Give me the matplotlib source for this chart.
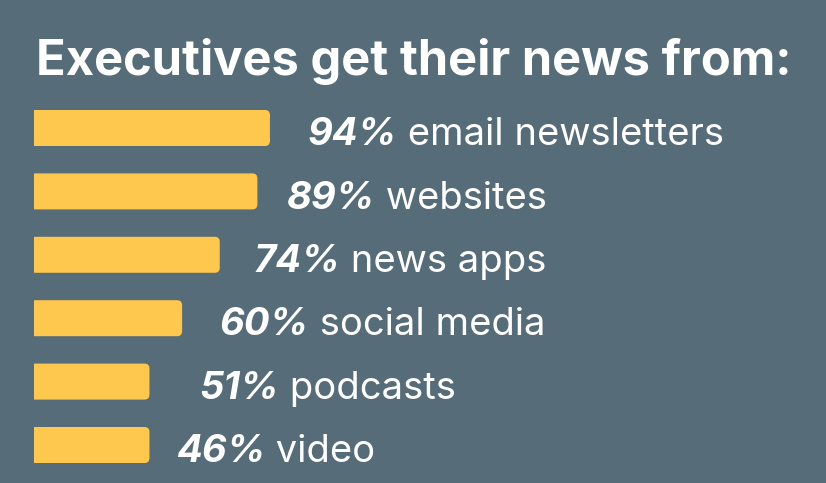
import matplotlib.pyplot as plt
from matplotlib.patches import FancyBboxPatch, Rectangle

# values
title = "Executives get their news from:"
sources = ["email newsletters", "websites", "news apps", "social media", "podcasts", "video"]
shares = [94, 89, 74, 60, 51, 46]
bar_lengths = [94, 89, 74, 59, 46, 46]  # as drawn in the original

bg = "#566C78"
bar_color = "#FEC84F"
font = "Inter"

fig = plt.figure(figsize=(8.26, 4.83), dpi=100, facecolor=bg)
ax = fig.add_axes([0, 0, 1, 1])
ax.set_facecolor(bg)

px_x = 2.51   # pixels per percent
px_y = 63.4   # pixels per row
ax.set_xlim(-34 / px_x, (826 - 34) / px_x)
ax.set_ylim((483 - 128) / px_y, -128 / px_y)
ax.axis("off")

h = 36 / px_y
r = 5 / px_x
ys = list(range(len(sources)))

# rounded bars, left end cut square at x = 0
for y, b in zip(ys, bar_lengths):
    bar = FancyBboxPatch((-2 * r, y - h / 2), b + 2 * r, h,
                         boxstyle=f"round,pad=0,rounding_size={r}",
                         mutation_aspect=px_x / px_y,
                         facecolor=bar_color, edgecolor="none")
    ax.add_patch(bar)
    clip = Rectangle((0, y - h), b + 1, 2 * h, transform=ax.transData)
    bar.set_clip_path(clip)

gaps = [15, 11.5, 13.5, 15, 20, 10.5]
for y, b, s, name, g in zip(ys, bar_lengths, shares, sources, gaps):
    t1 = ax.text(b + g, y + 0.27, f"{s}%", color="white", fontsize=27.5,
                 fontweight="bold", fontstyle="italic", family=font,
                 ha="left", va="baseline")
    ax.annotate(" " + name, xy=(1, 0), xycoords=t1, color="white",
                fontsize=27.5, family=font, ha="left", va="bottom")

fig.text(36 / 826, 1 - 75 / 483, title, color="white", fontsize=35.2,
         fontweight="bold", family=font, ha="left", va="baseline")

fig.savefig("out.png", dpi=100, facecolor=bg)
